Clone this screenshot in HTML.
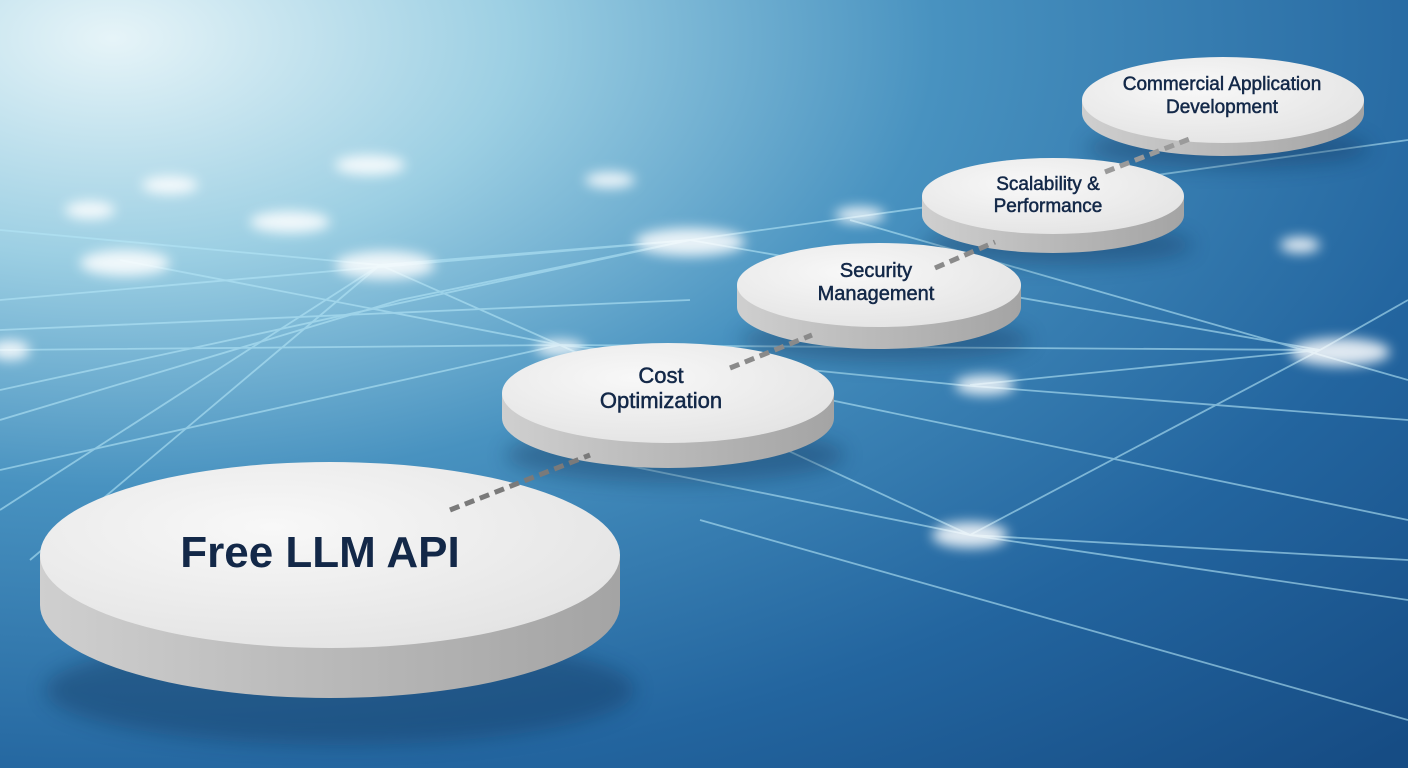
<!DOCTYPE html>
<html><head><meta charset="utf-8"><style>
html,body{margin:0;padding:0;width:1408px;height:768px;overflow:hidden}
svg{display:block}
text{font-family:"Liberation Sans","DejaVu Sans",sans-serif;fill:#132848;text-anchor:middle}
</style></head><body>
<svg width="1408" height="768" viewBox="0 0 1408 768">
<defs>
<radialGradient id="bg" cx="0.08" cy="0.05" r="1.3">
<stop offset="0" stop-color="#e6f4f8"/>
<stop offset="0.22" stop-color="#9ccfe3"/>
<stop offset="0.45" stop-color="#4892c0"/>
<stop offset="0.75" stop-color="#23659f"/>
<stop offset="1" stop-color="#164c84"/>
</radialGradient>
<linearGradient id="side" x1="0" x2="1" y1="0" y2="0">
<stop offset="0" stop-color="#cfcfcf"/><stop offset="0.4" stop-color="#bdbdbd"/><stop offset="1" stop-color="#a4a4a4"/>
</linearGradient>
<radialGradient id="top" cx="0.4" cy="0.35" r="0.75">
<stop offset="0" stop-color="#f8f8f8"/><stop offset="1" stop-color="#e2e2e2"/>
</radialGradient>
<filter id="blur"><feGaussianBlur stdDeviation="6"/></filter>
<filter id="sh"><feGaussianBlur stdDeviation="10"/></filter>
</defs>
<rect width="1408" height="768" fill="url(#bg)"/>
<g stroke="#b4e6f7" stroke-width="1.8" opacity="0.6" fill="none">
<path d="M0 300 L690 240 L1408 140"/><path d="M0 350 L560 345 L960 385 L1408 420"/>
<path d="M0 420 L400 300 L690 240"/><path d="M120 260 L560 345 L970 535 L1408 600"/>
<path d="M380 265 L690 240 L1320 350"/><path d="M0 470 L560 345 L1320 350"/>
<path d="M970 385 L1320 350 L1408 300"/><path d="M970 535 L1320 350"/>
<path d="M830 400 L1408 520"/><path d="M600 460 L970 535 L1408 560"/>
<path d="M700 520 L1408 720"/><path d="M30 560 L380 265"/>
<path d="M850 220 L1408 380"/><path d="M0 230 L380 265 L560 345"/>
<path d="M0 390 L690 240"/><path d="M0 510 L380 265"/><path d="M0 330 L690 300"/>
</g>
<g fill="#ffffff" filter="url(#blur)" opacity="0.85">
<ellipse cx="690" cy="242" rx="55" ry="14"/><ellipse cx="385" cy="265" rx="50" ry="14"/>
<ellipse cx="125" cy="263" rx="45" ry="13"/><ellipse cx="290" cy="222" rx="40" ry="11"/>
<ellipse cx="1340" cy="352" rx="50" ry="14"/><ellipse cx="985" cy="385" rx="30" ry="10"/>
<ellipse cx="970" cy="535" rx="38" ry="13"/><ellipse cx="560" cy="348" rx="25" ry="8"/>
<ellipse cx="370" cy="165" rx="35" ry="10"/><ellipse cx="170" cy="185" rx="28" ry="9"/>
<ellipse cx="90" cy="210" rx="25" ry="9"/><ellipse cx="610" cy="180" rx="25" ry="8"/>
<ellipse cx="860" cy="215" rx="25" ry="8"/><ellipse cx="10" cy="350" rx="20" ry="10"/>
<ellipse cx="1300" cy="245" rx="20" ry="8"/>
</g>
<g opacity="0.35" fill="#0a2a50" filter="url(#sh)">
<ellipse cx="340" cy="690" rx="295" ry="55"/><ellipse cx="675" cy="455" rx="170" ry="28"/>
<ellipse cx="885" cy="340" rx="145" ry="22"/><ellipse cx="1058" cy="245" rx="135" ry="20"/><ellipse cx="1228" cy="148" rx="142" ry="20"/>
</g>
<path d="M40 555 L40 605 A290 93 0 0 0 620 605 L620 555 Z" fill="url(#side)"/>
<ellipse cx="330" cy="555" rx="290" ry="93" fill="url(#top)"/>
<path d="M502 393 L502 418 A166 50 0 0 0 834 418 L834 393 Z" fill="url(#side)"/>
<ellipse cx="668" cy="393" rx="166" ry="50" fill="url(#top)"/>
<path d="M737 285 L737 307 A142 42 0 0 0 1021 307 L1021 285 Z" fill="url(#side)"/>
<ellipse cx="879" cy="285" rx="142" ry="42" fill="url(#top)"/>
<path d="M922 196 L922 215 A131 38 0 0 0 1184 215 L1184 196 Z" fill="url(#side)"/>
<ellipse cx="1053" cy="196" rx="131" ry="38" fill="url(#top)"/>
<path d="M1082 100 L1082 113 A141 43 0 0 0 1364 113 L1364 100 Z" fill="url(#side)"/>
<ellipse cx="1223" cy="100" rx="141" ry="43" fill="url(#top)"/>
<g stroke-width="5" stroke-dasharray="10 6" fill="none">
<path d="M450 510 L590 455" stroke="#7a7a7a"/>
<path d="M730 368 L812 335" stroke="#8a8a8a"/>
<path d="M935 268 L995 242" stroke="#8a8a8a"/>
<path d="M1105 172 L1192 138" stroke="#9a9a9a"/>
</g>
<text x="320" y="567" font-size="44" font-weight="bold">Free LLM API</text>
<g stroke="#132848" stroke-width="0.5">
<text x="661" y="383" font-size="22">Cost</text>
<text x="661" y="408" font-size="22">Optimization</text>
<text x="876" y="277" font-size="20">Security</text>
<text x="876" y="300" font-size="20">Management</text>
<text x="1048" y="190" font-size="19">Scalability &amp;</text>
<text x="1048" y="212" font-size="19">Performance</text>
<text x="1222" y="90" font-size="19">Commercial Application</text>
<text x="1222" y="113" font-size="19">Development</text>
</g>
</svg>
</body></html>
